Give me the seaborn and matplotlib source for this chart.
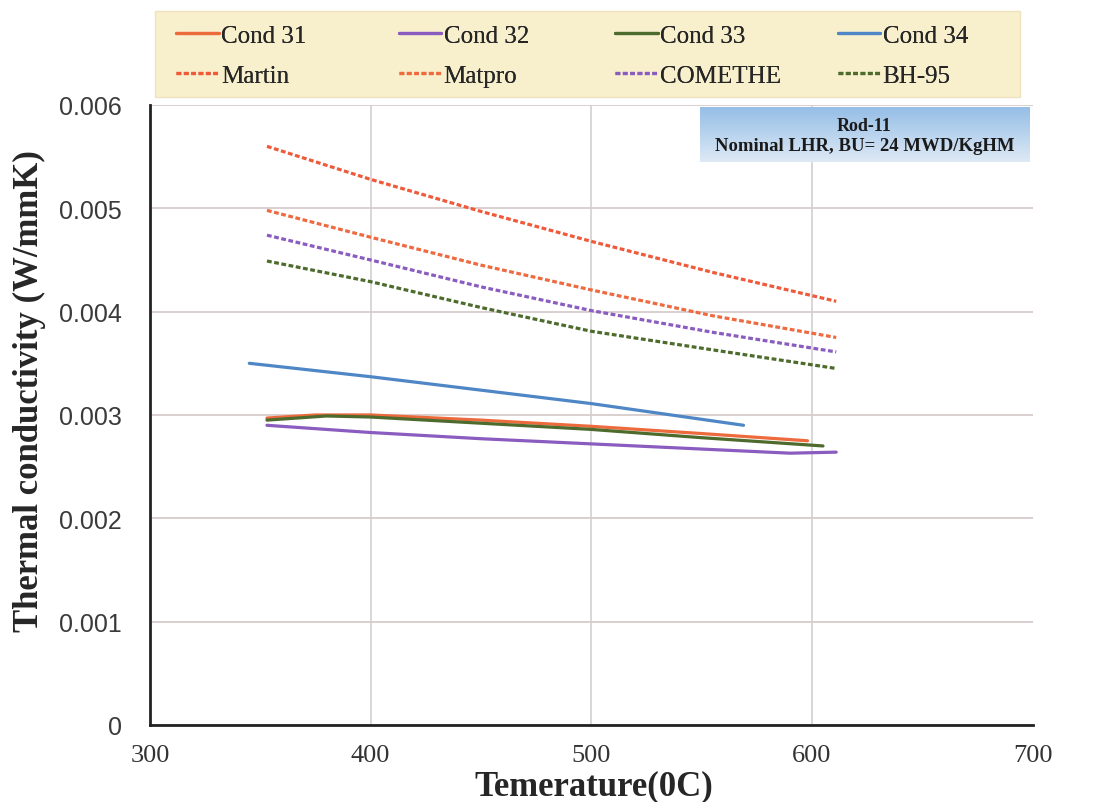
import matplotlib
matplotlib.use("Agg")
import matplotlib.pyplot as plt
from matplotlib.patches import Rectangle
import seaborn as sns
import pandas as pd
import numpy as np

# data (temperature in C, k in W/mmK)
martin_t = [353, 400, 450, 500, 555, 611]
martin_k = [0.00560, 0.00528, 0.00497, 0.00468, 0.00438, 0.00410]
matpro_t = [353, 400, 450, 500, 555, 611]
matpro_k = [0.00498, 0.00472, 0.00445, 0.00421, 0.00396, 0.00375]
comethe_t = [353, 400, 450, 500, 555, 611]
comethe_k = [0.00474, 0.00450, 0.00424, 0.00401, 0.00380, 0.00361]
bh95_t = [353, 400, 450, 500, 555, 611]
bh95_k = [0.00449, 0.00429, 0.00404, 0.00381, 0.00363, 0.00345]

c31_t = [353, 375, 400, 450, 500, 550, 598]
c31_k = [0.00297, 0.00300, 0.00300, 0.00295, 0.00289, 0.00282, 0.00275]
c32_t = [353, 400, 450, 500, 550, 590, 611]
c32_k = [0.00290, 0.00283, 0.00277, 0.00272, 0.00267, 0.00263, 0.00264]
c33_t = [353, 380, 400, 450, 500, 550, 605]
c33_k = [0.00295, 0.00299, 0.00298, 0.00292, 0.00286, 0.00278, 0.00270]
c34_t = [345, 400, 450, 500, 569]
c34_k = [0.00350, 0.00337, 0.00324, 0.00311, 0.00290]

series = [
    ("Cond 31", c31_t, c31_k, "#ec6a3c", "-"),
    ("Cond 32", c32_t, c32_k, "#8a5cc0", "-"),
    ("Cond 33", c33_t, c33_k, "#4e6b2e", "-"),
    ("Cond 34", c34_t, c34_k, "#4f86c6", "-"),
    ("Martin", martin_t, martin_k, "#ee5a3a", "--"),
    ("Matpro", matpro_t, matpro_k, "#ee6a40", "--"),
    ("COMETHE", comethe_t, comethe_k, "#8a5cc0", "--"),
    ("BH-95", bh95_t, bh95_k, "#4e6b2e", "--"),
]

sns.set_style("white")
plt.rcParams["font.family"] = ["Liberation Serif", "DejaVu Serif"]

fig = plt.figure(figsize=(10.95, 8.03), dpi=100)
ax = fig.add_axes([0.137, 0.096, 0.806, 0.772])

handles = {}
for name, t, k, col, ls in series:
    df = pd.DataFrame({"T": t, "k": k})
    sns.lineplot(data=df, x="T", y="k", ax=ax, color=col, linewidth=2.3,
                 label=name, legend=False)
    line = ax.lines[-1]
    if ls == "--":
        line.set_dashes((1.5, 0.8))
    handles[name] = line

ax.set_xlim(300, 700)
ax.set_ylim(0, 0.006)
ax.set_xticks([300, 400, 500, 600, 700])
ax.set_yticks([0, 0.001, 0.002, 0.003, 0.004, 0.005, 0.006])
ax.set_yticklabels(["0", "0.001", "0.002", "0.003", "0.004", "0.005", "0.006"])
ax.grid(True, axis="y", color="#d8cccc", linewidth=1.3)
ax.grid(True, axis="x", color="#d4d4d4", linewidth=1.3)
ax.get_xgridlines()[-1].set_visible(False)
ax.get_xgridlines()[0].set_visible(False)
ax.set_axisbelow(True)

for s in ["top", "right"]:
    ax.spines[s].set_visible(False)
for s in ["left", "bottom"]:
    ax.spines[s].set_color("#222222")
    ax.spines[s].set_linewidth(2)

ax.tick_params(axis="both", direction="out", length=6, width=1.5,
               colors="#222222")
ax.tick_params(axis="x", pad=8, labelsize=19, labelcolor="#333333")
ax.tick_params(axis="y", pad=14, labelsize=18, labelcolor="#3a3a3a")
for lab in ax.get_yticklabels():
    lab.set_family(["Liberation Sans", "DejaVu Sans"])

ax.set_xlabel("Temerature(0C)", fontsize=25, fontweight="bold")
ax.xaxis.set_label_coords(0.503, -0.072)
ax.set_ylabel("Thermal conductivity (W/mmK)", fontsize=25, fontweight="bold")
ax.yaxis.set_label_coords(-0.118, 0.54)

# legend background band
fig.patches.append(Rectangle((0.1416, 0.878), 0.790, 0.107,
                             transform=fig.transFigure, facecolor="#f8efcc",
                             edgecolor="#efe3bd", zorder=0))

# legend: one column per condition/model pair, columns evenly spaced
pairs = [("Cond 31", "Martin"), ("Cond 32", "Matpro"),
         ("Cond 33", "COMETHE"), ("Cond 34", "BH-95")]
col_x = [0.161, 0.364, 0.562, 0.765]
for x0, (a, b) in zip(col_x, pairs):
    leg = fig.legend([handles[a], handles[b]], [a, b], loc="upper left",
                     bbox_to_anchor=(x0, 0.968), fontsize=18, frameon=False,
                     handlelength=1.7, handletextpad=0.1, borderaxespad=0,
                     borderpad=0, labelspacing=0.68)
    fig.add_artist(leg)

# info box with a blue gradient in the upper right
box = fig.add_axes([0.639, 0.797, 0.301, 0.0685])
grad = np.linspace(0, 1, 64).reshape(-1, 1)
box.imshow(grad, aspect="auto", extent=(0, 1, 0, 1), origin="upper",
           cmap=matplotlib.colors.LinearSegmentedColormap.from_list(
               "bx", ["#94bde6", "#dde9f5"]))
box.set_xlim(0, 1)
box.set_ylim(0, 1)
box.axis("off")
box.text(0.5, 0.66, "Rod-11", ha="center", va="center", fontsize=13,
         fontweight="bold", color="#1a1a1a")
box.text(0.5, 0.30, "Nominal LHR, BU= 24 MWD/KgHM", ha="center",
         va="center", fontsize=13.5, fontweight="bold", color="#1a1a1a")

fig.savefig("out.png", dpi=100)
